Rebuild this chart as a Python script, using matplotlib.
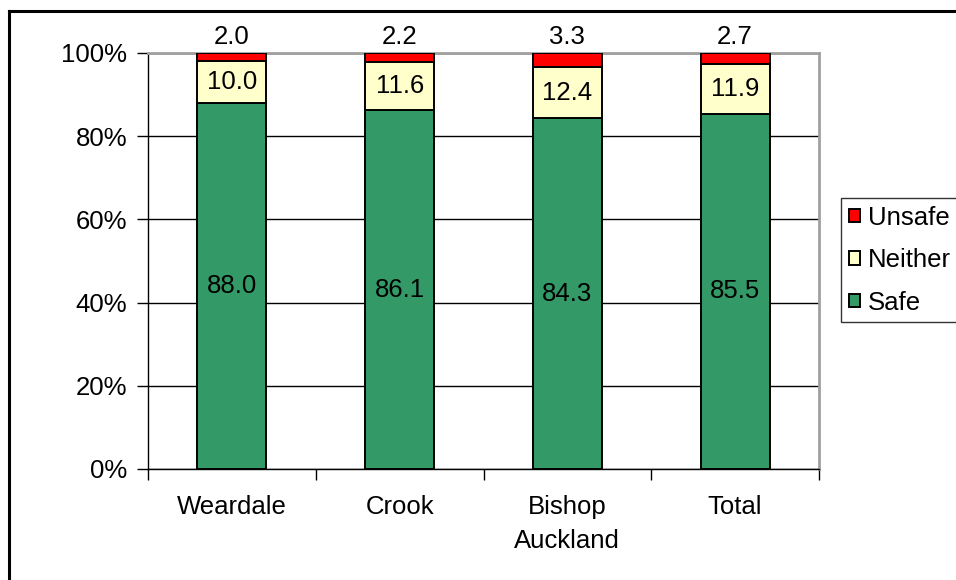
import numpy as np
import matplotlib
matplotlib.use("Agg")
from matplotlib import pyplot as plt
from matplotlib.lines import Line2D

plt.rcParams["font.family"] = ["Liberation Sans", "DejaVu Sans"]
plt.rcParams["font.size"] = 18.5

areas = ["Weardale", "Crook", "Bishop\nAuckland", "Total"]
safe = [88.0, 86.1, 84.3, 85.5]
neither = [10.0, 11.6, 12.4, 11.9]
unsafe = [2.0, 2.2, 3.3, 2.7]

GREEN = "#339966"
CREAM = "#ffffcc"
RED = "#ff0000"

# 100% stacked: scale each column to its own total
totals = np.array(safe) + np.array(neither) + np.array(unsafe)
safe_pct = np.array(safe) / totals * 100
neither_pct = np.array(neither) / totals * 100
unsafe_pct = np.array(unsafe) / totals * 100

fig = plt.figure(figsize=(9.56, 5.8), dpi=100)
ax = fig.add_axes([148 / 956, 1 - 469 / 580, (819 - 148) / 956, (469 - 53) / 580])

x = np.arange(len(areas))
w = 0.41
kw = dict(width=w, edgecolor="black", linewidth=1.4, zorder=3)
b_safe = ax.bar(x, safe_pct, color=GREEN, label="Safe", **kw)
b_neither = ax.bar(x, neither_pct, bottom=safe_pct, color=CREAM, label="Neither", **kw)
b_unsafe = ax.bar(x, unsafe_pct, bottom=safe_pct + neither_pct, color=RED,
                  label="Unsafe", **kw)

# value labels
for i in range(len(areas)):
    ax.text(x[i], safe_pct[i] / 2, f"{safe[i]:.1f}", ha="center", va="center",
            zorder=4)
    ax.text(x[i], safe_pct[i] + neither_pct[i] / 2, f"{neither[i]:.1f}",
            ha="center", va="center", zorder=4)
    ax.annotate(f"{unsafe[i]:.1f}", (x[i], 100), xytext=(0, 3),
                textcoords="offset points", ha="center", va="bottom",
                annotation_clip=False)

ax.set_xlim(-0.5, len(areas) - 0.5)
ax.set_ylim(0, 100)
ax.set_yticks(np.arange(0, 101, 20))
ax.set_yticklabels([f"{v}%" for v in range(0, 101, 20)])
ax.yaxis.grid(True, color="black", linewidth=1)
ax.set_axisbelow(True)

# category ticks on boundaries, labels in the middle
ax.set_xticks(np.arange(-0.5, len(areas), 1.0))
ax.set_xticklabels([])
ax.set_xticks(x, minor=True)
ax.set_xticklabels(areas, minor=True, linespacing=1.5)
ax.tick_params(axis="x", which="major", length=8, width=1, direction="out")
ax.tick_params(axis="x", which="minor", length=0, pad=19)
ax.tick_params(axis="y", length=8, width=1, pad=7)

for side in ["top", "right"]:
    ax.spines[side].set_color("#a0a0a0")
    ax.spines[side].set_linewidth(2)
for side in ["left", "bottom"]:
    ax.spines[side].set_color("black")
    ax.spines[side].set_linewidth(1)

leg = fig.legend(handles=[b_unsafe, b_neither, b_safe],
                 loc="upper left", bbox_to_anchor=(841 / 956, 1 - 198 / 580),
                 frameon=True, fancybox=False, edgecolor="black",
                 handlelength=0.45, handleheight=0.45, handletextpad=0.3,
                 labelspacing=0.72, borderpad=0.3, borderaxespad=0)
leg.get_frame().set_linewidth(1)

# chart border
fig.add_artist(Line2D([9 / 956, 1.05], [1 - 11 / 580] * 2, color="black",
                      linewidth=2.2, transform=fig.transFigure))
fig.add_artist(Line2D([9 / 956] * 2, [-0.05, 1 - 11 / 580], color="black",
                      linewidth=2.2, transform=fig.transFigure))

fig.savefig("out.png", dpi=100)
